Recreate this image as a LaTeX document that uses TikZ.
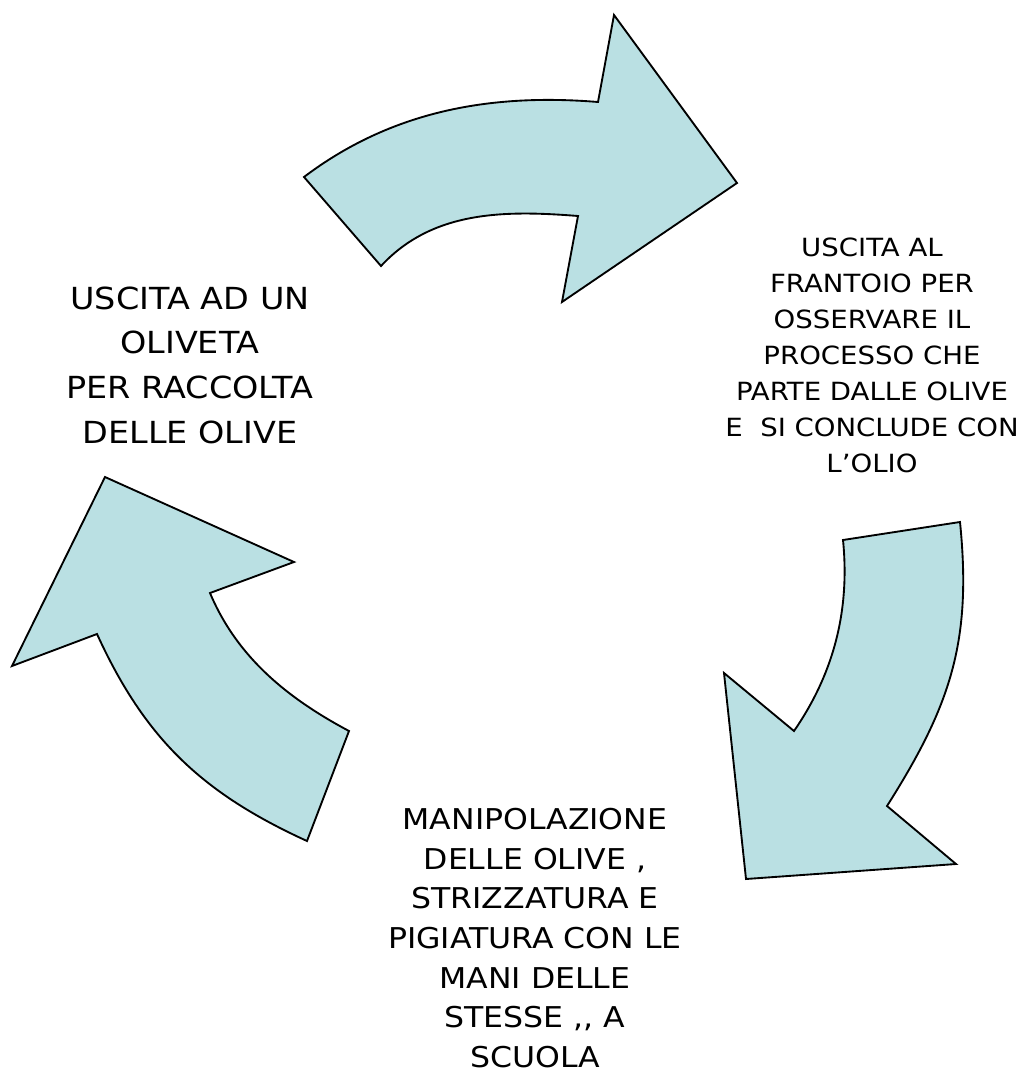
\documentclass[tikz,border=0pt]{standalone}
\usepackage{fontspec}
\newfontfamily\comic[FakeStretch=1.1]{DejaVu Sans}
\definecolor{arrowfill}{RGB}{186,224,227}
\begin{document}
\begin{tikzpicture}[x=0.75pt,y=-0.75pt,
  bigarrow/.style={fill=arrowfill,draw=black,line width=1.4pt,line join=miter},
  label/.style={align=center,inner sep=0pt,text=black}]
\useasboundingbox (0,0) rectangle (1025,1075);
% top arrow
\draw[bigarrow] (304,177) .. controls (390,112) and (488,93) .. (598,102)
  -- (614,15) -- (737,183) -- (562,302) -- (578,216)
  .. controls (503,210) and (432,211) .. (381,266) -- cycle;
% right arrow
\draw[bigarrow] (843,540) -- (960,522)
  .. controls (972,641) and (951,705) .. (887,806)
  -- (956,864) -- (746,879) -- (724,673) -- (794,731)
  .. controls (834,673) and (850,610) .. (843,540) -- cycle;
% left arrow
\draw[bigarrow] (12,666) -- (105,477) -- (294,562) -- (210,593)
  .. controls (237,657) and (287,698) .. (349,731)
  -- (307,841) .. controls (202,793) and (145,739) .. (97,634) -- cycle;
% texts
\node[label,font={\comic\fontsize{22.8}{33.5}\selectfont}] (left) at (190,365)
  {USCITA AD UN\\OLIVETA\\PER RACCOLTA\\DELLE OLIVE};
\node[label,font={\comic\fontsize{18.8}{27}\selectfont}] (right) at (872,355)
  {USCITA AL\\FRANTOIO PER\\OSSERVARE IL\\PROCESSO CHE\\PARTE DALLE OLIVE\\E~ SI CONCLUDE CON\\L’OLIO};
\node[label,font={\comic\fontsize{21.5}{29.7}\selectfont}] (bottom) at (535,938)
  {MANIPOLAZIONE\\DELLE OLIVE ,\\STRIZZATURA E\\PIGIATURA CON LE\\MANI DELLE\\STESSE ,, A\\SCUOLA};
\end{tikzpicture}
\end{document}
